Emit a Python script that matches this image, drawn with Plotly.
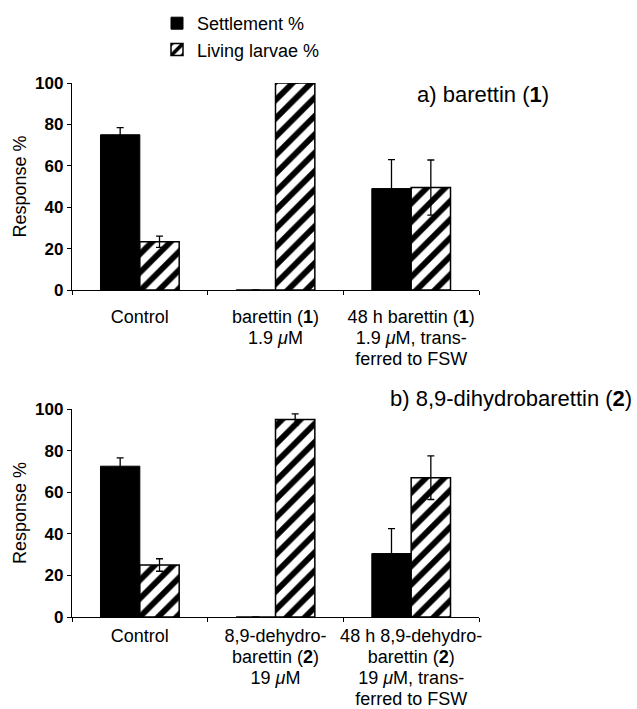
import plotly.graph_objects as go

FONT = "Liberation Sans, Arial, Helvetica, sans-serif"

series_names = ["Settlement %", "Living larvae %"]

# category labels, one list of lines per category
cats_a = [
    ["Control"],
    ["barettin (<b>1</b>)", "1.9 <i>μ</i>M"],
    ["48 h barettin (<b>1</b>)", "1.9 <i>μ</i>M, trans-", "ferred to FSW"],
]
settle_a = [75, 0, 49]
settle_a_err = [3.4, 0, 14]
living_a = [23.3, 100, 49.5]
living_a_err = [2.7, 0, 13.3]

cats_b = [
    ["Control"],
    ["8,9-dehydro-", "barettin (<b>2</b>)", "19 <i>μ</i>M"],
    ["48 h 8,9-dehydro-", "barettin (<b>2</b>)", "19 <i>μ</i>M, trans-", "ferred to FSW"],
]
settle_b = [72.5, 0, 30.5]
settle_b_err = [4, 0, 12]
living_b = [25, 95, 67]
living_b_err = [3, 2.7, 10.5]

y_ticks = [0, 20, 40, 60, 80, 100]
title_a = "a) barettin (<b>1</b>)"
title_b = "b) 8,9-dihydrobarettin (<b>2</b>)"


def label(lines):
    # each line rendered at 18px while the (smaller) tick font sets tighter leading
    return "<br>".join("<span style='font-size:18px'>%s</span>" % ln for ln in lines)


fig = go.Figure()


def err(arr):
    return dict(type="data", array=arr, color="black", thickness=1.3, width=3.5)


for cats, s, se, l, le, xa, ya, show in [
    (cats_a, settle_a, settle_a_err, living_a, living_a_err, "x", "y", True),
    (cats_b, settle_b, settle_b_err, living_b, living_b_err, "x2", "y2", False),
]:
    xs = [label(c) for c in cats]
    fig.add_trace(go.Bar(
        x=xs, y=s, name=series_names[0], xaxis=xa, yaxis=ya,
        marker=dict(color="black", line=dict(color="black", width=1)),
        error_y=err(se), showlegend=show, legendgroup="s",
    ))
    fig.add_trace(go.Bar(
        x=xs, y=l, name=series_names[1], xaxis=xa, yaxis=ya,
        marker=dict(color="white", line=dict(color="black", width=1.5),
                    pattern=dict(shape="/", fgcolor="black", bgcolor="white",
                                 size=13, solidity=0.45)),
        error_y=err(le), showlegend=show, legendgroup="l",
    ))

# pixel geometry helpers
W, H = 637, 709
L, R, T, B = 72, 158, 83, 92
PW, PH = W - L - R, H - T - B


def py(p):
    return (H - B - p) / PH


def px(p):
    return (p - L) / PW


xax = dict(range=[-0.5, 2.5], showline=True, linecolor="black", linewidth=1.3,
           ticks="outside", tickson="boundaries", ticklen=4, tickcolor="black",
           tickwidth=1, showgrid=False, zeroline=False, tickangle=0,
           automargin=False,
           tickfont=dict(family=FONT, size=16, color="black"))
yax = dict(range=[0, 100], tickvals=y_ticks, showline=True, linecolor="black",
           linewidth=1.3, ticks="outside", ticklen=4, tickcolor="black",
           showgrid=False, zeroline=False, automargin=False,
           tickfont=dict(family=FONT, size=17, color="black", weight="bold"),
           title=dict(text="Response %", font=dict(family=FONT, size=18, color="black")))

fig.update_layout(
    template="none",
    width=W, height=H,
    margin=dict(l=L, r=R, t=T, b=B, autoexpand=False),
    paper_bgcolor="white", plot_bgcolor="white",
    barmode="group", bargap=0.42, bargroupgap=0,
    font=dict(family=FONT, size=18, color="black"),
    xaxis=dict(domain=[0, 1], anchor="y", ticklabelstandoff=13, **xax),
    yaxis=dict(domain=[py(290), 1], anchor="x", **yax),
    xaxis2=dict(domain=[0, 1], anchor="y2", ticklabelstandoff=5, **xax),
    yaxis2=dict(domain=[0, py(409)], anchor="x2", **yax),
    legend=dict(x=px(157), y=py(5), xanchor="left", yanchor="top",
                font=dict(family=FONT, size=18, color="black"),
                bgcolor="rgba(0,0,0,0)", traceorder="normal", itemwidth=30),
    annotations=[
        dict(text=title_a, xref="paper", yref="paper", x=px(551), y=py(94),
             xanchor="right", yanchor="middle", showarrow=False,
             font=dict(family=FONT, size=22, color="black")),
        dict(text=title_b, xref="paper", yref="paper", x=px(634), y=py(398),
             xanchor="right", yanchor="middle", showarrow=False,
             font=dict(family=FONT, size=22, color="black")),
    ],
)

fig.write_html("out.html", config={"displayModeBar": False},
               post_script="document.body.style.margin='0px';")
